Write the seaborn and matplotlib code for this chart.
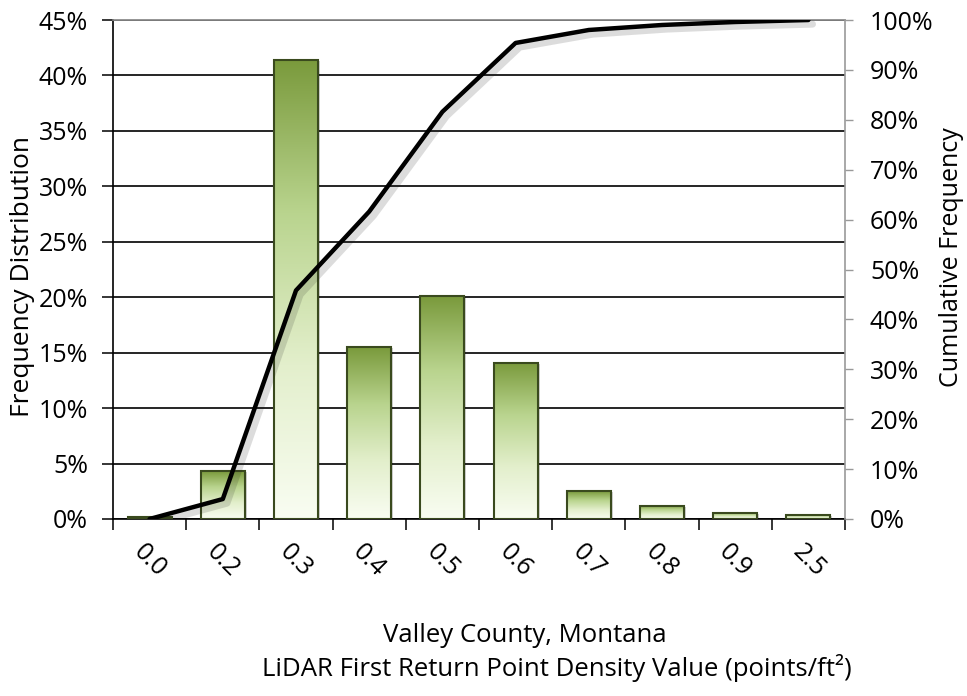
import numpy as np
import pandas as pd
import matplotlib
matplotlib.use("Agg")
import matplotlib.pyplot as plt
import matplotlib.patheffects as pe
from matplotlib.patches import Rectangle
from matplotlib.colors import LinearSegmentedColormap
from matplotlib.ticker import PercentFormatter, FixedLocator
import seaborn as sns

categories = ["0.0", "0.2", "0.3", "0.4", "0.5", "0.6", "0.7", "0.8", "0.9", "2.5"]
frequency = [0.2, 4.3, 41.4, 15.5, 20.1, 14.1, 2.5, 1.2, 0.55, 0.4]
cumulative = [0.0, 4.0, 45.8, 61.6, 81.6, 95.4, 98.0, 99.0, 99.6, 100.0]

sns.set_theme(style="white")
plt.rcParams["font.family"] = ["Open Sans", "DejaVu Sans"]
for k in ["text.color", "axes.labelcolor", "xtick.color", "ytick.color"]:
    plt.rcParams[k] = "black"

df = pd.DataFrame({"cat": categories, "freq": frequency, "cum": cumulative})

fig = plt.figure(figsize=(9.67, 6.96), dpi=100)
ax = fig.add_axes([113/967, 1-519/696, (845-113)/967, (519-20)/696])

sns.barplot(data=df, x="cat", y="freq", ax=ax, width=0.6, color="#86a64a",
            edgecolor="#3a4a1e", linewidth=1.5, zorder=3)

# gradient fill for bars
cmap = LinearSegmentedColormap.from_list("g", ["#f9fdf2", "#e3efcc", "#b9d48e", "#7a9a3c"])
grad = np.linspace(0, 1, 256).reshape(-1, 1)
for p in list(ax.patches):
    x0, y0 = p.get_x(), p.get_y()
    w, h = p.get_width(), p.get_height()
    sh = Rectangle((x0, y0), w, h, facecolor="black", alpha=0.18, edgecolor="none", zorder=3.2)
    sh.set_transform(ax.transData + matplotlib.transforms.ScaledTranslation(2/100, -1/100, fig.dpi_scale_trans))
    ax.add_patch(sh)
    im = ax.imshow(grad, cmap=cmap, aspect="auto", origin="lower",
                   extent=[x0, x0 + w, y0, y0 + h], zorder=3.5)
    im.set_clip_path(p)
    p.set_facecolor("none")
    p.set_zorder(4)

ax.set_xlim(-0.5, len(categories) - 0.5)
ax.set_ylim(0, 45)
ax.yaxis.set_major_locator(FixedLocator(np.arange(0, 46, 5)))
ax.yaxis.set_major_formatter(PercentFormatter(decimals=0))
ax.grid(axis="y", color="black", linewidth=1.2, zorder=0)
ax.set_axisbelow(True)
ax.tick_params(axis="y", which="both", direction="out", length=8, width=1.1,
               color="black", labelsize=18, pad=10, left=True)
ax.set_ylabel("Frequency Distribution", fontsize=19)
ax.yaxis.set_label_coords(-0.106, 0.485)
ax.set_xlabel("")

# x ticks at category boundaries, labels at centers
ax.set_xticks(np.arange(len(categories)))
ax.set_xticklabels(categories)
ax.set_xticks(np.arange(-0.5, len(categories), 1), minor=True)
ax.tick_params(axis="x", which="major", length=0, labelsize=18, pad=30)
ax.tick_params(axis="x", which="minor", length=8, width=1.1, color="black", bottom=True, direction="out")
for lab in ax.get_xticklabels():
    lab.set_rotation(-45)
    lab.set_ha("center")
    lab.set_va("center")

for s in ["left", "bottom"]:
    ax.spines[s].set_color("black")
    ax.spines[s].set_linewidth(1.2)
ax.spines["top"].set_color("#888888")
ax.spines["right"].set_visible(False)

ax2 = ax.twinx()
sns.lineplot(data=df, x="cat", y="cum", ax=ax2, color="black", linewidth=3.2, sort=False,
             path_effects=[pe.SimpleLineShadow(offset=(3, -3), alpha=0.15, linewidth=5), pe.Normal()])
ax2.set_ylim(0, 100)
ax2.yaxis.set_major_locator(FixedLocator(np.arange(0, 101, 10)))
ax2.yaxis.set_major_formatter(PercentFormatter(decimals=0))
ax2.tick_params(axis="y", direction="out", length=6, width=1.0, color="#999999",
                labelsize=18, pad=12, right=True)
ax2.set_ylabel("Cumulative Frequency", fontsize=18)
ax2.yaxis.set_label_coords(1.128, 0.525)
ax2.set_xlabel("")
ax2.grid(False)
for s in ["left", "bottom", "top"]:
    ax2.spines[s].set_visible(False)
ax2.spines["right"].set_color("#999999")
ax2.spines["right"].set_linewidth(1.2)
ax2.set_xlim(-0.5, len(categories) - 0.5)

fig.text(525/967, 1-636/696, "Valley County, Montana", ha="center", va="center", fontsize=18.5)
fig.text(557/967, 1-668/696, "LiDAR First Return Point Density Value (points/ft²)",
         ha="center", va="center", fontsize=18.5)

fig.savefig("out.png", dpi=100, facecolor="white")
